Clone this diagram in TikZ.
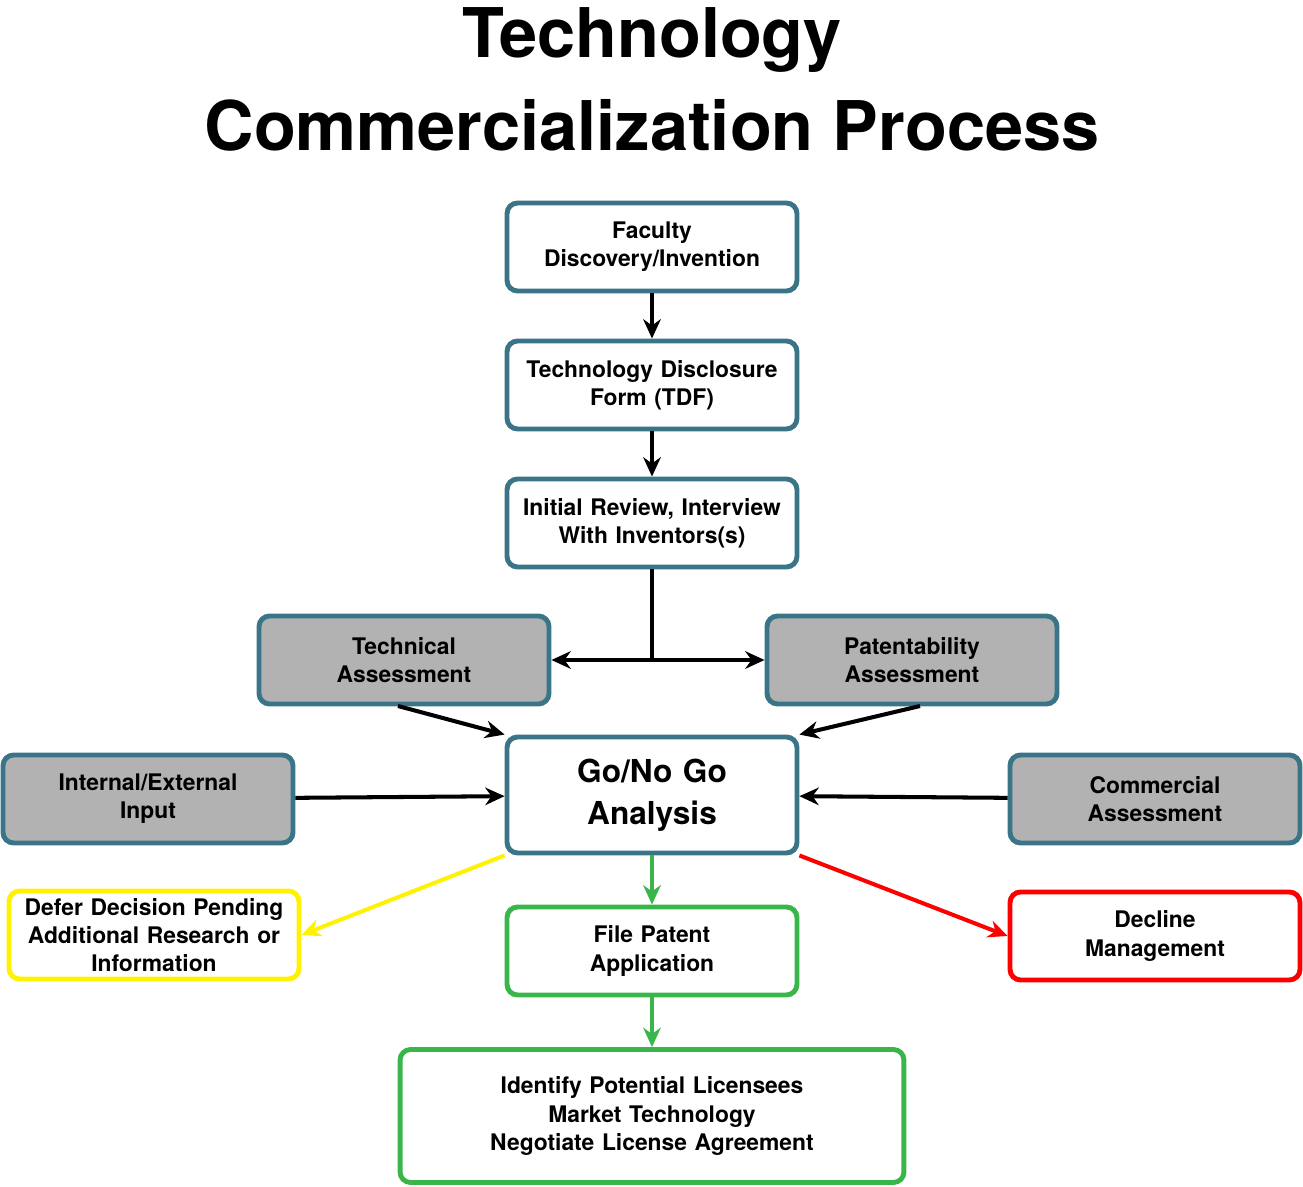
\documentclass[tikz,border=0pt]{standalone}
\usepackage{fontspec}
\setmainfont{TeX Gyre Heros}
\usetikzlibrary{arrows.meta}

\definecolor{boxc}{RGB}{58,116,135}
\definecolor{okgreen}{RGB}{57,181,74}
\tikzset{
  box/.style={draw=boxc, line width=2.8pt, rounded corners=6pt,
    minimum width=5.8cm, minimum height=1.76cm, text width=5.4cm, align=center,
    font=\bfseries\fontsize{13}{16}\selectfont},
  gray box/.style={box, fill=gray!60},
  flow/.style={line width=2.3pt, -{Stealth[length=11pt,width=10pt]}},
}

\begin{document}
\begin{tikzpicture}[x=0.02cm, y=-0.02cm]
  \useasboundingbox (0,0) rectangle (1303,1187);

  \node[font=\bfseries\fontsize{39}{47}\selectfont] (title) at (652,40) {Technology};
  \node[font=\bfseries\fontsize{39}{47}\selectfont] (title2) at (652,125) {Commercialization Process};

  \node[box] (faculty) at (652,247) {Faculty\\Discovery/Invention};
  \node[box] (tdf) at (652,385) {Technology Disclosure\\Form (TDF)};
  \node[box] (review) at (652,523) {Initial Review, Interview\\With Inventors(s)};
  \node[gray box] (tech) at (404,660) {Technical\\Assessment};
  \node[gray box] (patent) at (912,660) {Patentability\\Assessment};
  \node[box, minimum height=2.32cm, font=\bfseries\fontsize{18}{24}\selectfont] (go) at (652,795) {Go/No Go\\Analysis};
  \node[gray box] (input) at (148,799) {Internal/External\\Input};
  \node[gray box] (comm) at (1155,799) {Commercial\\Assessment};
  \node[box, draw=yellow] (defer) at (154,935) {Defer Decision Pending\\Additional Research or\\Information};
  \node[box, draw=okgreen] (file) at (652,951) {File Patent\\Application};
  \node[box, draw=red] (decline) at (1155,936) {Decline\\Management};
  \node[box, draw=okgreen, minimum width=10.08cm, minimum height=2.66cm, text width=9.5cm] (license) at (652,1116)
    {Identify Potential Licensees\\Market Technology\\Negotiate License Agreement};

  \coordinate (split) at (652,660);

  \draw[flow] (faculty) -- (tdf);
  \draw[flow] (tdf) -- (review);
  \draw[line width=2.3pt] (review) -- (split);
  \draw[flow] (split) -- (tech);
  \draw[flow] (split) -- (patent);
  \draw[flow] (398,706) -- (go.north west);
  \draw[flow] (920,706) -- (go.north east);
  \draw[flow] (input) -- (go);
  \draw[flow] (comm) -- (go);
  \draw[flow, yellow] (go.south west) -- (defer.east);
  \draw[flow, okgreen] (go) -- (file);
  \draw[flow, red] (go.south east) -- (decline.west);
  \draw[flow, okgreen] (file) -- (license);
\end{tikzpicture}
\end{document}
